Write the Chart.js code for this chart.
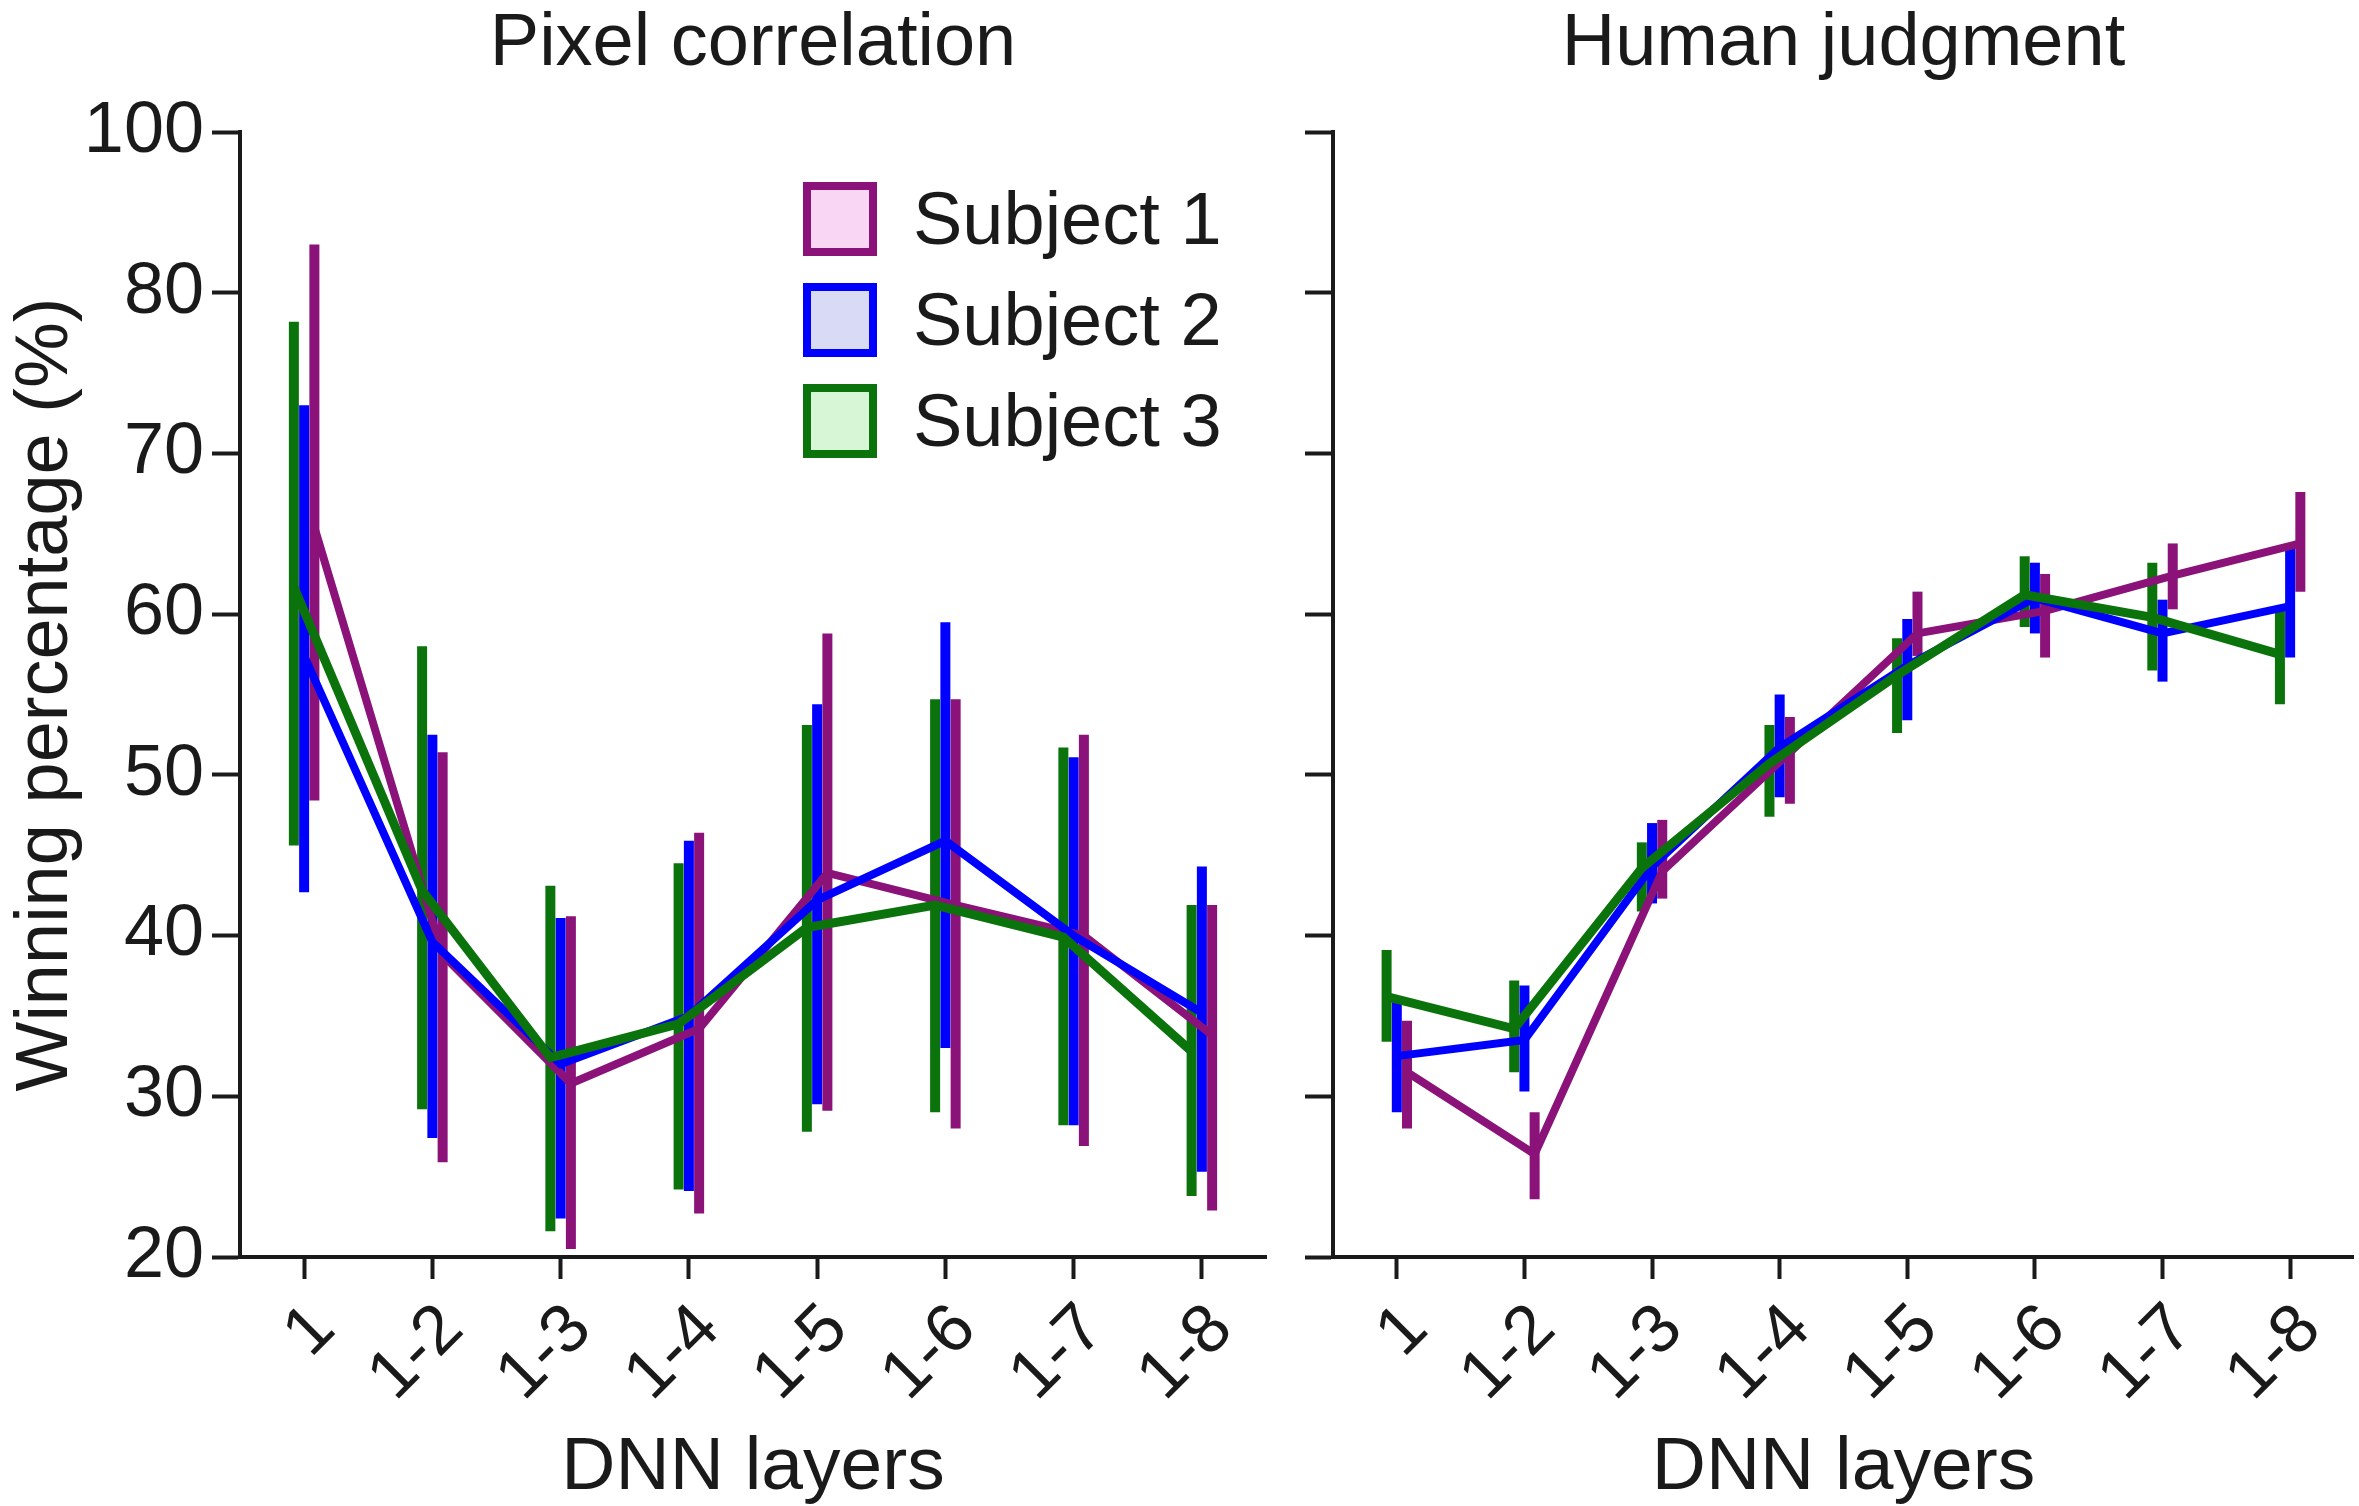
<!DOCTYPE html>
<html>
<head>
<meta charset="utf-8">
<script src="https://cdn.jsdelivr.net/npm/chart.js@4.4.1/dist/chart.umd.min.js"></script>
<style>
  body { margin: 0; background: #fff; }
  #wrap { position: relative; width: 2359px; height: 1506px; overflow: hidden; font-family: "Liberation Sans", Arial, sans-serif; }
  canvas { position: absolute; top: 0; }
  #pix { left: 0; }
  #hum { left: 1290px; }
  #legend { position: absolute; left: 803px; top: 182px; }
  .row { display: flex; align-items: center; height: 74px; margin-bottom: 27px; }
  .box { width: 74px; height: 74px; box-sizing: border-box; border: 8px solid; margin-right: 36px; }
  .row span { font-size: 74px; line-height: 74px; color: #1a1a1a; }
</style>
</head>
<body>
<div id="wrap">
  <canvas id="pix" width="1290" height="1506"></canvas>
  <canvas id="hum" width="1069" height="1506"></canvas>
  <div id="legend"></div>
</div>
<script>
// categories and tick labels
const layers = ['1', '1-2', '1-3', '1-4', '1-5', '1-6', '1-7', '1-8'];
const subjects = ['Subject 1', 'Subject 2', 'Subject 3'];
const yTickValues = [20, 30, 40, 50, 60, 70, 80, 90];
const yTickLabels = ['20', '30', '40', '50', '60', '70', '80', '100'];

// Pixel correlation: means and error bar ends
const pixS1 = [65.4, 38.8, 30.8, 34.2, 43.9, 41.9, 40.0, 33.8];
const pixS1Lo = [48.4, 25.9, 20.5, 22.7, 29.1, 28.0, 26.9, 22.9];
const pixS1Hi = [83.0, 51.4, 41.2, 46.4, 58.8, 54.7, 52.5, 41.9];
const pixS2 = [57.4, 39.6, 32.0, 35.0, 42.2, 45.9, 40.0, 35.2];
const pixS2Lo = [42.7, 27.4, 22.4, 24.1, 29.5, 33.0, 28.2, 25.3];
const pixS2Hi = [73.0, 52.5, 41.1, 45.9, 54.4, 59.5, 51.1, 44.3];
const pixS3 = [61.7, 42.8, 32.4, 34.5, 40.5, 41.9, 39.9, 32.8];
const pixS3Lo = [45.6, 29.2, 21.6, 24.2, 27.8, 29.0, 28.2, 23.8];
const pixS3Hi = [78.2, 58.0, 43.1, 44.5, 53.1, 54.7, 51.7, 41.9];

// Human judgment: means and error bar ends
const humS1 = [31.5, 26.4, 44.0, 51.4, 58.8, 60.2, 62.4, 64.4];
const humS1Lo = [28.0, 23.6, 42.3, 48.2, 57.4, 57.3, 60.3, 61.4];
const humS1Hi = [34.7, 29.0, 47.2, 53.6, 61.4, 62.5, 64.4, 67.6];
const humS2 = [32.5, 33.5, 44.3, 51.7, 56.8, 61.0, 58.8, 60.5];
const humS2Lo = [29.0, 30.3, 42.0, 48.6, 53.4, 58.8, 55.8, 57.3];
const humS2Hi = [35.9, 36.9, 47.0, 55.0, 59.7, 63.2, 60.9, 64.1];
const humS3 = [36.2, 34.2, 44.2, 50.7, 56.2, 61.2, 59.8, 57.5];
const humS3Lo = [33.4, 31.5, 41.5, 47.4, 52.6, 59.2, 56.5, 54.4];
const humS3Hi = [39.1, 37.2, 45.8, 53.1, 58.5, 63.6, 63.2, 60.5];

const lineColors = ['#8a1279', '#0000ff', '#0b730b'];
const boxFills = ['#f9d7f4', '#d8daf6', '#d6f6d6'];
const lineWidths = [8, 8, 9];
const dodge = [0.08, 0, -0.08];   // small side shift so the bars do not sit on each other
const ink = '#1a1a1a';

Chart.defaults.font.family = '"Liberation Sans", Arial, sans-serif';
Chart.defaults.color = ink;

// vertical error bars, drawn under the lines
const errorBars = {
  id: 'errorBars',
  beforeDatasetsDraw(chart) {
    const { ctx, scales: { x, y } } = chart;
    chart.data.datasets.forEach(ds => {
      ctx.save();
      ctx.strokeStyle = ds.borderColor;
      ctx.lineWidth = 10;
      ds.data.forEach((p, j) => {
        const px = x.getPixelForValue(p.x);
        ctx.beginPath();
        ctx.moveTo(px, y.getPixelForValue(ds.errLo[j]));
        ctx.lineTo(px, y.getPixelForValue(ds.errHi[j]));
        ctx.stroke();
      });
      ctx.restore();
    });
  }
};

function makeChart(id, title, means, lows, highs, yWidth, padRight, showY) {
  const datasets = means.map((m, s) => ({
    label: subjects[s],
    data: m.map((v, i) => ({ x: i + dodge[s], y: v })),
    errLo: lows[s],
    errHi: highs[s],
    borderColor: lineColors[s],
    backgroundColor: boxFills[s],
    borderWidth: lineWidths[s],
    pointRadius: 0,
    tension: 0,
    fill: false,
    order: 3 - s
  }));

  return new Chart(document.getElementById(id), {
    type: 'line',
    data: { datasets },
    plugins: [errorBars],
    options: {
      responsive: false,
      animation: false,
      layout: { padding: { left: 0, right: padRight, top: 0, bottom: 0 } },
      plugins: {
        legend: { display: false },
        tooltip: { enabled: false },
        title: {
          display: true, text: title, fullSize: false, color: ink,
          font: { size: 74, weight: 'normal', lineHeight: 1 },
          padding: { top: 8, bottom: 50 }
        }
      },
      scales: {
        x: {
          type: 'linear', min: -0.5, max: 7.5,
          afterBuildTicks: s => { s.ticks = layers.map((_, i) => ({ value: i })); },
          afterFit: s => { s.height = 249; },
          ticks: {
            callback: v => layers[v], autoSkip: false,
            minRotation: 45, maxRotation: 45,
            padding: 10, labelOffset: 20,
            font: { size: 69 }, color: ink
          },
          grid: { drawOnChartArea: false, drawTicks: true, tickLength: 22, tickWidth: 4, tickColor: ink },
          border: { display: true, color: ink, width: 4 },
          title: {
            display: true, text: 'DNN layers', color: ink,
            font: { size: 75, lineHeight: 1 }, padding: { top: 0, bottom: 0 }
          }
        },
        y: {
          type: 'linear', min: 20, max: 90,
          afterBuildTicks: s => { s.ticks = yTickValues.map(v => ({ value: v })); },
          afterFit: s => { s.width = yWidth; },
          ticks: {
            display: showY, callback: (v, i) => yTickLabels[i],
            padding: 8, font: { size: 72 }, color: ink
          },
          grid: { drawOnChartArea: false, drawTicks: true, tickLength: 28, tickWidth: 4, tickColor: ink },
          border: { display: true, color: ink, width: 4 },
          title: {
            display: showY, text: 'Winning percentage (%)', color: ink,
            font: { size: 74, lineHeight: 1 }, padding: { top: 10, bottom: 0 }
          }
        }
      }
    }
  });
}

makeChart('pix', 'Pixel correlation',
  [pixS1, pixS2, pixS3], [pixS1Lo, pixS2Lo, pixS3Lo], [pixS1Hi, pixS2Hi, pixS3Hi], 240, 24, true);
makeChart('hum', 'Human judgment',
  [humS1, humS2, humS3], [humS1Lo, humS2Lo, humS3Lo], [humS1Hi, humS2Hi, humS3Hi], 43, 0, false);

// legend in the left panel
const legend = document.getElementById('legend');
subjects.forEach((name, s) => {
  const row = document.createElement('div');
  row.className = 'row';
  const box = document.createElement('div');
  box.className = 'box';
  box.style.borderColor = lineColors[s];
  box.style.background = boxFills[s];
  const label = document.createElement('span');
  label.textContent = name;
  row.appendChild(box);
  row.appendChild(label);
  legend.appendChild(row);
});
</script>
</body>
</html>
